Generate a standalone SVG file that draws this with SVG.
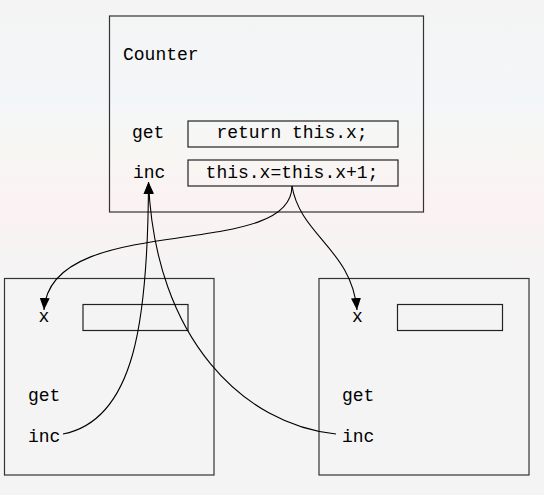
<svg xmlns="http://www.w3.org/2000/svg" width="544" height="495" viewBox="0 0 544 495">
<defs>
<linearGradient id="bg" x1="0" y1="0" x2="0" y2="495" gradientUnits="userSpaceOnUse">
<stop offset="0" stop-color="#f4f4f4"/>
<stop offset="0.2" stop-color="#f3f6f8"/>
<stop offset="0.3" stop-color="#f7f6f3"/>
<stop offset="0.42" stop-color="#fbf2f3"/>
<stop offset="0.55" stop-color="#f4f4f4"/>
<stop offset="1" stop-color="#f4f4f4"/>
</linearGradient>
<marker id="arr" viewBox="0 0 12 10" refX="12" refY="5" markerWidth="12" markerHeight="10" markerUnits="userSpaceOnUse" orient="auto">
<path d="M0,0 L12,5 L0,10 Z" fill="#000"/>
</marker>
</defs>
<style>
.box{fill:none;stroke:#333;stroke-width:1.2}
.slot{fill:none;stroke:#222;stroke-width:1.2}
.t{font-family:"Liberation Mono","Courier New",monospace;font-size:18px;fill:#000}
.m{text-anchor:middle}
.c{fill:none;stroke:#000;stroke-width:1.1}
</style>
<rect width="544" height="495" fill="url(#bg)"/>
<g id="counter">
<rect class="box" x="109.5" y="16" width="314" height="196"/>
<text class="t" x="123" y="60">Counter</text>
<text class="t" x="132" y="138">get</text>
<rect class="slot" x="188" y="121" width="210" height="26"/>
<text class="t m" x="292" y="138">return this.x;</text>
<text class="t" x="133" y="178">inc</text>
<rect class="slot" x="188" y="160" width="210" height="26"/>
<text class="t m" x="292" y="178">this.x=this.x+1;</text>
</g>
<g id="obj1">
<rect class="box" x="4.5" y="278.5" width="209.5" height="196.5"/>
<text class="t m" x="44" y="322">x</text>
<rect class="slot" x="83" y="304.5" width="105" height="26"/>
<text class="t" x="28" y="401">get</text>
<text class="t" x="28" y="442">inc</text>
</g>
<g id="obj2">
<rect class="box" x="319" y="278.5" width="210" height="196.5"/>
<text class="t m" x="357.5" y="322">x</text>
<rect class="slot" x="397.5" y="304.5" width="105" height="26"/>
<text class="t" x="342" y="401">get</text>
<text class="t" x="342" y="442">inc</text>
</g>
<g id="connectors">
<path class="c" d="M292,186 C292,262 50,210 44,310" marker-end="url(#arr)"/>
<path class="c" d="M292,186 C300,235 352,250 357,310" marker-end="url(#arr)"/>
<path class="c" d="M63,434 C135,420 148,320 148.5,182" marker-end="url(#arr)"/>
<path class="c" d="M336,434 C245,425 155,340 148.5,182" marker-end="url(#arr)"/>
</g>
</svg>
